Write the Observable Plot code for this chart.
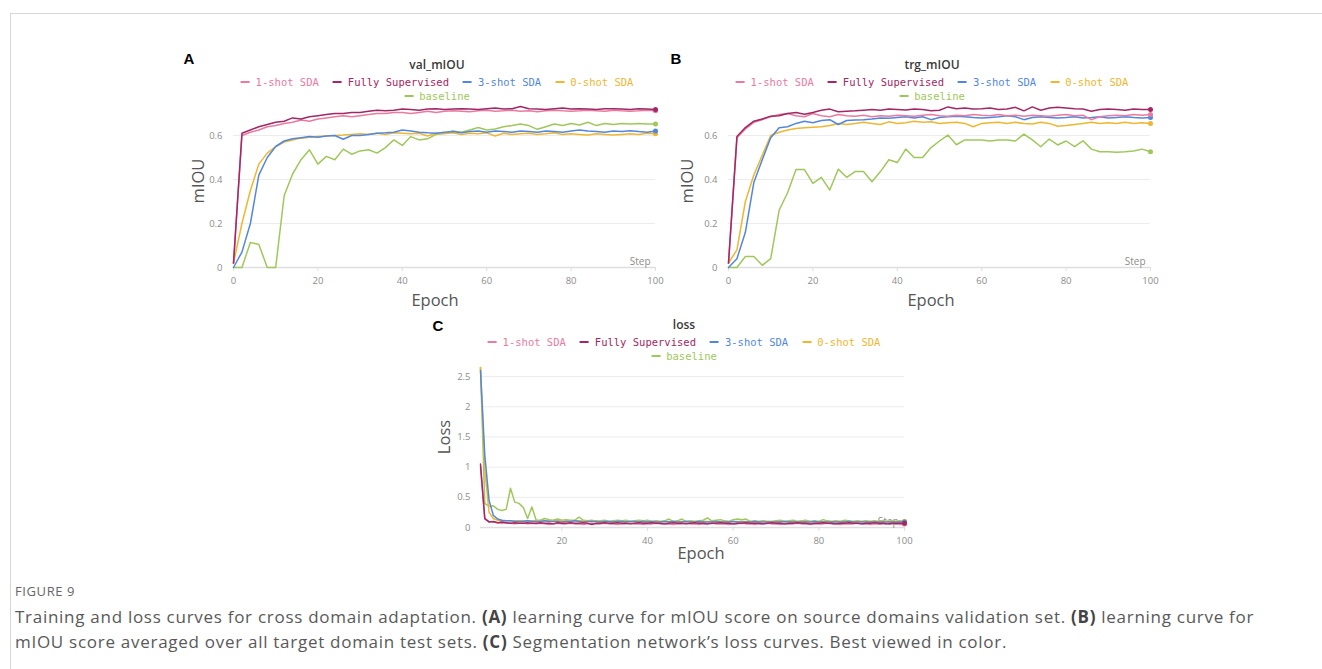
<!DOCTYPE html>
<html>
<head>
<meta charset="utf-8">
<script src="https://cdn.jsdelivr.net/npm/d3@7"></script>
<script src="https://cdn.jsdelivr.net/npm/@observablehq/plot@0.6"></script>
<style>
  html, body { margin: 0; padding: 0; background: #fff; }
  #page { position: relative; width: 1322px; height: 669px; overflow: hidden; background: #fff; font-family: "Open Sans", sans-serif; }
  .abs { position: absolute; white-space: nowrap; }
  .c { transform: translate(-50%, -50%); }
  .panel-letter { font-family: "Liberation Sans", Arial, sans-serif; font-weight: bold; font-size: 15px; color: #000; }
  .ptitle { font-family: "Open Sans", sans-serif; font-size: 12px; font-weight: 600; color: #3a3a3a; }
  .legend { font-family: "DejaVu Sans Mono", monospace; font-size: 10.5px; text-align: center; }
  .legend .item { display: inline-block; margin: 0 7px; }
  .legend .dash { display: inline-block; width: 9px; height: 2px; vertical-align: middle; margin-right: 6px; position: relative; top: -1px; }
  .axlabel { font-family: "Open Sans", sans-serif; font-size: 16.5px; color: #555; }
  .rot { transform: translate(-50%, -50%) rotate(-90deg); }
  .chart { position: absolute; }
  .fig { font-family: "Open Sans", sans-serif; font-size: 13px; color: #666; letter-spacing: 0.6px; }
  .cap { font-family: "Open Sans", sans-serif; font-size: 17px; color: #595959; letter-spacing: 0.72px; }
  .cap b { color: #444; }
</style>
</head>
<body>
<div id="page">
  <div class="abs" style="left:10px; top:13px; width:1312px; height:1px; background:#d6d6d6;"></div>
  <div class="abs" style="left:10px; top:13px; width:1px; height:656px; background:#d6d6d6;"></div>

  <div class="abs panel-letter c" style="left:189px; top:58px;">A</div>
  <div class="abs panel-letter c" style="left:676px; top:58px;">B</div>
  <div class="abs panel-letter c" style="left:438px; top:325px;">C</div>

  <div class="abs ptitle c" style="left:437px; top:64px;">val_mIOU</div>
  <div class="abs ptitle c" style="left:932px; top:64px;">trg_mIOU</div>
  <div class="abs ptitle c" style="left:684px; top:324px;">loss</div>

  <div id="legA" class="abs legend c" style="left:437px; top:89px;"></div>
  <div id="legB" class="abs legend c" style="left:932px; top:89px;"></div>
  <div id="legC" class="abs legend c" style="left:684px; top:349px;"></div>

  <div id="chartA" class="chart" style="left:170px; top:95px;"></div>
  <div id="chartB" class="chart" style="left:665px; top:95px;"></div>
  <div id="chartC" class="chart" style="left:415px; top:355px;"></div>

  <div class="abs axlabel c" style="left:435px; top:299px;">Epoch</div>
  <div class="abs axlabel c" style="left:931px; top:299px;">Epoch</div>
  <div class="abs axlabel c" style="left:701px; top:552px;">Epoch</div>
  <div class="abs axlabel rot" style="left:197px; top:181px;">mIOU</div>
  <div class="abs axlabel rot" style="left:686px; top:181px;">mIOU</div>
  <div class="abs axlabel rot" style="left:443px; top:437px;">Loss</div>

  <div class="abs fig" style="left:15px; top:582px;">FIGURE 9</div>
  <div class="abs cap" style="left:15px; top:605px;">Training and loss curves for cross domain adaptation. <b>(A)</b> learning curve for mIOU score on source domains validation set. <b>(B)</b> learning curve for</div>
  <div class="abs cap" style="left:15px; top:630px;">mIOU score averaged over all target domain test sets. <b>(C)</b> Segmentation network’s loss curves. Best viewed in color.</div>
</div>
<script>
// ---------- series ----------
const seriesNames = ["1-shot SDA", "Fully Supervised", "3-shot SDA", "0-shot SDA", "baseline"];
const seriesColors = ["#E87B9F", "#A12864", "#5387DD", "#EDB732", "#A0C75C"];
const drawOrder = ["baseline", "0-shot SDA", "3-shot SDA", "1-shot SDA", "Fully Supervised"];

// ---------- panel A / B epochs ----------
const epochsAB = [0,2,4,6,8,10,12,14,16,18,20,22,24,26,28,30,32,34,36,38,40,42,44,46,48,50,52,54,56,58,60,62,64,66,68,70,72,74,76,78,80,82,84,86,88,90,92,94,96,98,100];

// ---------- A: val_mIOU ----------
const valFull = [0.02,0.61,0.625,0.64,0.65,0.66,0.665,0.68,0.675,0.685,
 0.69,0.695,0.70,0.70,0.705,0.705,0.71,0.715,0.712,0.715,
 0.72,0.718,0.715,0.72,0.722,0.718,0.72,0.722,0.72,0.718,
 0.722,0.725,0.72,0.722,0.732,0.722,0.72,0.718,0.722,0.725,
 0.72,0.722,0.72,0.718,0.722,0.722,0.72,0.718,0.722,0.72,
 0.718];
const val1shot = [0.02,0.60,0.615,0.625,0.64,0.645,0.655,0.66,0.67,0.665,
 0.675,0.68,0.685,0.69,0.685,0.69,0.695,0.70,0.70,0.705,
 0.705,0.70,0.705,0.71,0.705,0.71,0.712,0.71,0.708,0.712,
 0.715,0.71,0.712,0.715,0.71,0.712,0.708,0.712,0.715,0.712,
 0.71,0.712,0.715,0.712,0.71,0.715,0.712,0.71,0.712,0.715,
 0.712];
const val3shot = [0.0,0.07,0.2,0.42,0.5,0.55,0.575,0.585,0.59,0.595,
 0.592,0.598,0.60,0.583,0.60,0.60,0.605,0.61,0.612,0.615,
 0.625,0.62,0.615,0.612,0.61,0.615,0.618,0.612,0.618,0.62,
 0.615,0.62,0.618,0.615,0.62,0.618,0.615,0.62,0.618,0.615,
 0.62,0.625,0.62,0.618,0.615,0.62,0.618,0.622,0.618,0.615,
 0.62];
const val0shot = [0.02,0.2,0.35,0.47,0.52,0.55,0.57,0.58,0.588,0.592,
 0.595,0.598,0.60,0.602,0.605,0.608,0.605,0.61,0.605,0.612,
 0.61,0.608,0.61,0.598,0.61,0.608,0.612,0.605,0.61,0.608,
 0.612,0.598,0.61,0.605,0.608,0.61,0.605,0.608,0.612,0.605,
 0.608,0.605,0.602,0.608,0.605,0.602,0.605,0.608,0.605,0.61,
 0.608];
const valBase = [0.0,0.0,0.114,0.105,0.0,0.0,0.326,0.425,0.49,0.535,
 0.47,0.505,0.49,0.538,0.515,0.53,0.535,0.52,0.545,0.58,
 0.555,0.595,0.58,0.585,0.605,0.61,0.62,0.615,0.625,0.636,
 0.625,0.63,0.64,0.645,0.652,0.645,0.628,0.64,0.652,0.645,
 0.655,0.648,0.66,0.645,0.655,0.65,0.655,0.652,0.655,0.652,
 0.652];

// ---------- B: trg_mIOU ----------
const trgFull = [0.02,0.595,0.636,0.665,0.675,0.688,0.69,0.70,0.705,0.697,
 0.705,0.715,0.72,0.708,0.71,0.712,0.715,0.718,0.715,0.72,
 0.718,0.716,0.72,0.718,0.712,0.715,0.73,0.722,0.725,0.72,
 0.722,0.725,0.718,0.72,0.728,0.712,0.73,0.715,0.725,0.728,
 0.725,0.722,0.72,0.71,0.718,0.72,0.718,0.715,0.72,0.718,
 0.718];
const trg1shot = [0.02,0.59,0.63,0.66,0.672,0.685,0.695,0.70,0.69,0.685,
 0.70,0.69,0.685,0.695,0.69,0.688,0.692,0.685,0.69,0.688,
 0.692,0.69,0.688,0.692,0.695,0.69,0.688,0.692,0.69,0.695,
 0.692,0.69,0.695,0.69,0.692,0.688,0.692,0.69,0.688,0.692,
 0.695,0.69,0.692,0.672,0.685,0.69,0.692,0.69,0.695,0.692,
 0.695];
const trg3shot = [0.0,0.04,0.16,0.386,0.49,0.59,0.635,0.64,0.655,0.665,
 0.658,0.668,0.672,0.65,0.668,0.67,0.672,0.675,0.68,0.678,
 0.682,0.685,0.68,0.685,0.672,0.682,0.685,0.688,0.685,0.682,
 0.68,0.682,0.685,0.69,0.685,0.672,0.682,0.685,0.682,0.68,
 0.682,0.685,0.68,0.682,0.685,0.68,0.682,0.685,0.682,0.68,
 0.682];
const trg0shot = [0.02,0.08,0.3,0.42,0.51,0.6,0.615,0.625,0.632,0.635,
 0.638,0.64,0.645,0.655,0.65,0.655,0.66,0.655,0.65,0.662,
 0.655,0.658,0.665,0.66,0.662,0.655,0.658,0.66,0.655,0.64,
 0.655,0.658,0.66,0.655,0.66,0.655,0.652,0.66,0.655,0.642,
 0.645,0.65,0.655,0.66,0.655,0.658,0.655,0.66,0.655,0.658,
 0.655];
const trgBase = [0.0,0.0,0.05,0.05,0.01,0.04,0.26,0.34,0.445,0.445,
 0.382,0.41,0.352,0.447,0.41,0.436,0.436,0.39,0.436,0.49,
 0.477,0.538,0.50,0.50,0.545,0.575,0.602,0.558,0.58,0.58,
 0.58,0.575,0.58,0.58,0.575,0.606,0.58,0.549,0.584,0.557,
 0.575,0.549,0.576,0.538,0.526,0.526,0.524,0.526,0.53,0.538,
 0.526];

// ---------- C: loss ----------
const epochsC = [1,2,3,4,5,6,7,8,9,10,11,12,13,14,15,16,17,18,19,20,
 21,22,23,24,25,26,27,28,29,30,31,32,33,34,35,36,37,38,39,40,
 41,42,43,44,45,46,47,48,49,50,51,52,53,54,55,56,57,58,59,60,
 61,62,63,64,65,66,67,68,69,70,71,72,73,74,75,76,77,78,79,80,
 81,82,83,84,85,86,87,88,89,90,91,92,93,94,95,96,97,98,99,100];
const lossFull = [1.05,0.15,0.09,0.10,0.08,0.09,0.08,0.07,0.08,0.07,
 0.07,0.08,0.07,0.07,0.08,0.07,0.07,0.06,0.08,0.07,
 0.07,0.08,0.07,0.07,0.08,0.07,0.05,0.07,0.07,0.08,
 0.07,0.07,0.08,0.07,0.07,0.06,0.07,0.08,0.07,0.07,
 0.08,0.07,0.07,0.06,0.07,0.08,0.07,0.07,0.06,0.07,
 0.08,0.07,0.07,0.06,0.07,0.07,0.08,0.07,0.07,0.06,
 0.07,0.07,0.08,0.07,0.07,0.07,0.06,0.07,0.08,0.07,
 0.07,0.06,0.07,0.07,0.08,0.07,0.07,0.06,0.07,0.07,
 0.08,0.07,0.07,0.06,0.07,0.07,0.08,0.07,0.07,0.06,
 0.07,0.07,0.08,0.07,0.07,0.06,0.07,0.07,0.07,0.07];
const loss1shot = [1.00,0.14,0.10,0.09,0.08,0.07,0.08,0.07,0.06,0.07,
 0.07,0.06,0.07,0.06,0.07,0.06,0.05,0.06,0.07,0.06,
 0.06,0.07,0.06,0.06,0.05,0.06,0.07,0.06,0.06,0.07,
 0.06,0.06,0.05,0.06,0.06,0.07,0.06,0.06,0.05,0.06,
 0.06,0.07,0.06,0.06,0.06,0.05,0.06,0.06,0.07,0.06,
 0.06,0.05,0.06,0.06,0.07,0.06,0.06,0.06,0.05,0.06,
 0.06,0.07,0.06,0.06,0.05,0.06,0.06,0.07,0.06,0.06,
 0.05,0.06,0.06,0.06,0.07,0.06,0.06,0.05,0.06,0.06,
 0.06,0.07,0.06,0.06,0.05,0.06,0.06,0.06,0.07,0.06,
 0.06,0.05,0.06,0.06,0.06,0.07,0.06,0.06,0.05,0.06];
const loss3shot = [2.60,1.20,0.45,0.20,0.14,0.12,0.11,0.11,0.10,0.10,
 0.10,0.11,0.10,0.10,0.10,0.11,0.10,0.10,0.10,0.09,
 0.10,0.10,0.11,0.10,0.09,0.10,0.10,0.10,0.09,0.10,
 0.10,0.09,0.10,0.10,0.09,0.10,0.10,0.09,0.10,0.09,
 0.10,0.09,0.09,0.10,0.09,0.10,0.09,0.09,0.10,0.09,
 0.09,0.10,0.09,0.09,0.09,0.10,0.09,0.09,0.09,0.10,
 0.09,0.09,0.09,0.09,0.10,0.09,0.09,0.09,0.09,0.09,
 0.09,0.10,0.09,0.09,0.09,0.09,0.09,0.09,0.10,0.09,
 0.09,0.09,0.09,0.09,0.09,0.09,0.10,0.09,0.09,0.09,
 0.09,0.09,0.09,0.09,0.09,0.09,0.09,0.09,0.09,0.09];
const loss0shot = [2.65,0.95,0.25,0.15,0.12,0.11,0.11,0.11,0.11,0.11,
 0.11,0.11,0.11,0.11,0.11,0.11,0.11,0.11,0.11,0.11,
 0.11,0.11,0.11,0.11,0.11,0.11,0.10,0.11,0.10,0.10,
 0.10,0.10,0.10,0.10,0.10,0.10,0.10,0.10,0.10,0.10,
 0.10,0.10,0.10,0.10,0.10,0.10,0.10,0.10,0.10,0.10,
 0.10,0.10,0.10,0.10,0.10,0.10,0.10,0.10,0.10,0.10,
 0.10,0.10,0.10,0.10,0.10,0.10,0.10,0.10,0.10,0.10,
 0.10,0.10,0.10,0.10,0.10,0.10,0.10,0.10,0.10,0.10,
 0.10,0.10,0.10,0.10,0.10,0.10,0.10,0.10,0.10,0.10,
 0.10,0.10,0.10,0.10,0.10,0.10,0.10,0.10,0.10,0.10];
const lossBase = [2.65,0.40,0.35,0.36,0.30,0.28,0.30,0.65,0.42,0.40,
 0.33,0.15,0.34,0.12,0.12,0.15,0.13,0.12,0.14,0.12,
 0.13,0.12,0.12,0.17,0.12,0.11,0.12,0.10,0.11,0.12,
 0.10,0.11,0.12,0.11,0.12,0.10,0.11,0.12,0.11,0.12,
 0.10,0.11,0.10,0.11,0.14,0.10,0.11,0.14,0.10,0.11,
 0.10,0.11,0.12,0.16,0.11,0.12,0.13,0.11,0.10,0.13,
 0.14,0.13,0.14,0.10,0.11,0.10,0.11,0.10,0.10,0.11,
 0.12,0.10,0.11,0.12,0.10,0.11,0.12,0.10,0.11,0.10,
 0.13,0.11,0.10,0.11,0.10,0.12,0.11,0.10,0.11,0.10,
 0.11,0.10,0.11,0.10,0.11,0.10,0.11,0.10,0.11,0.10];

// ---------- tick labels ----------
const ticksXAB = [0, 20, 40, 60, 80, 100];
const ticksYAB = [0, 0.2, 0.4, 0.6];
const ticksXC = [20, 40, 60, 80, 100];
const ticksYC = [0, 0.5, 1, 1.5, 2, 2.5];

function toRows(epochs, bySeries) {
  const rows = [];
  for (const s of drawOrder) bySeries[s].forEach((v, i) => rows.push({epoch: epochs[i], value: v, series: s}));
  return rows;
}
function lastRows(epochs, bySeries) {
  return drawOrder.map(s => ({epoch: epochs[epochs.length - 1], value: bySeries[s][bySeries[s].length - 1], series: s}));
}

function panel({epochs, bySeries, xDomain, xTicks, yDomain, yTicks, width, height, margin, yPad, stepDx}) {
  const rows = toRows(epochs, bySeries);
  const last = lastRows(epochs, bySeries);
  return Plot.plot({
    width, height,
    marginLeft: margin[0], marginRight: margin[1], marginTop: margin[2], marginBottom: margin[3],
    style: {fontFamily: "'Open Sans', sans-serif", fontSize: "9.5px", color: "#8c8c8c", background: "transparent", overflow: "visible"},
    x: {domain: xDomain},
    y: {domain: yDomain},
    color: {domain: seriesNames, range: seriesColors},
    marks: [
      Plot.gridY(yTicks.filter(t => t > 0), {stroke: "#ececec", strokeOpacity: 1}),
      Plot.axisX(xTicks, {tickSize: 4, tickPadding: 6, stroke: "#dedede", fill: "#8c8c8c", label: null, tickFormat: d => String(d)}),
      Plot.ruleY([0], {stroke: "#dedede", strokeWidth: 1.5}),
      Plot.axisY(yTicks, {tickSize: 0, tickPadding: yPad, fill: "#8c8c8c", label: null, tickFormat: d => String(d)}),
      Plot.text(["Step"], {frameAnchor: "bottom-right", dx: stepDx, dy: -3, fill: "#8c8c8c", fontSize: 10}),
      Plot.line(rows, {x: "epoch", y: "value", z: "series", stroke: "series", strokeWidth: 1.5, curve: "linear"}),
      Plot.dot(last, {x: "epoch", y: "value", fill: "series", r: 2.5})
    ]
  });
}

document.getElementById("chartA").append(panel({
  epochs: epochsAB,
  bySeries: {"1-shot SDA": val1shot, "Fully Supervised": valFull, "3-shot SDA": val3shot, "0-shot SDA": val0shot, "baseline": valBase},
  xDomain: [0, 100], xTicks: ticksXAB, yDomain: [0, 0.75], yTicks: ticksYAB,
  width: 500, height: 200, margin: [63, 15, 7, 28], yPad: 11, stepDx: -5
}));
document.getElementById("chartB").append(panel({
  epochs: epochsAB,
  bySeries: {"1-shot SDA": trg1shot, "Fully Supervised": trgFull, "3-shot SDA": trg3shot, "0-shot SDA": trg0shot, "baseline": trgBase},
  xDomain: [0, 100], xTicks: ticksXAB, yDomain: [0, 0.75], yTicks: ticksYAB,
  width: 500, height: 200, margin: [63, 15, 7, 28], yPad: 11, stepDx: -5
}));
document.getElementById("chartC").append(panel({
  epochs: epochsC,
  bySeries: {"1-shot SDA": loss1shot, "Fully Supervised": lossFull, "3-shot SDA": loss3shot, "0-shot SDA": loss0shot, "baseline": lossBase},
  xDomain: [1, 100], xTicks: ticksXC, yDomain: [0, 2.7], yTicks: ticksYC,
  width: 505, height: 200, margin: [65, 16, 9, 28], yPad: 10, stepDx: -6
}));

// ---------- legends ----------
function buildLegend(id) {
  const el = document.getElementById(id);
  const row1 = document.createElement("div");
  const row2 = document.createElement("div");
  row2.style.marginTop = "2px";
  seriesNames.forEach((name, i) => {
    const item = document.createElement("span");
    item.className = "item";
    item.style.color = seriesColors[i];
    const dash = document.createElement("span");
    dash.className = "dash";
    dash.style.background = seriesColors[i];
    item.append(dash, document.createTextNode(name));
    (i < 4 ? row1 : row2).append(item);
  });
  el.append(row1, row2);
}
buildLegend("legA");
buildLegend("legB");
buildLegend("legC");
</script>
</body>
</html>
